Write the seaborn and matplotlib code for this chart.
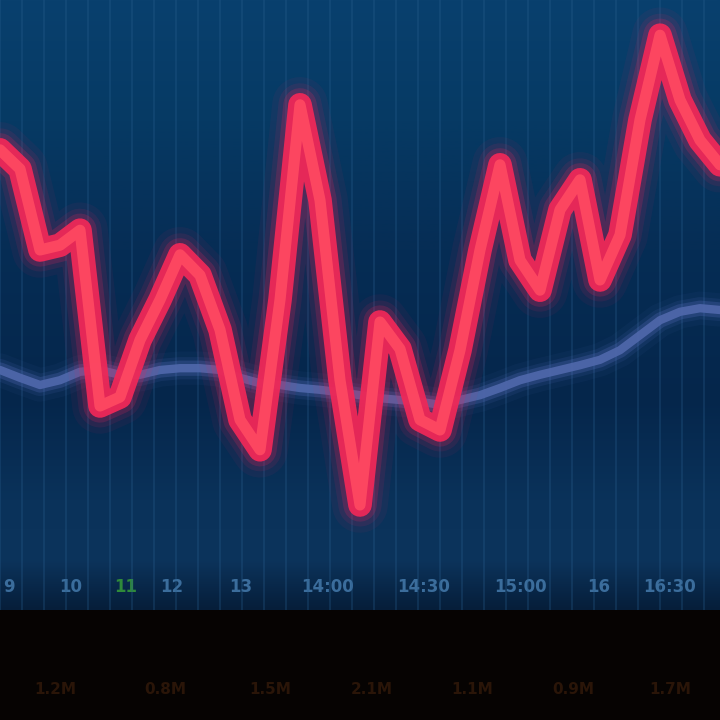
import numpy as np
import pandas as pd
import matplotlib
matplotlib.use("Agg")
import matplotlib.pyplot as plt
import seaborn as sns
from matplotlib.ticker import MultipleLocator
from matplotlib.colors import LinearSegmentedColormap

# ---- data ----
session = list(range(37))
price = [126.7, 123.5, 110.0, 110.8, 113.3, 84.0, 85.5, 95.0, 101.7, 109.2,
         105.8, 96.7, 81.7, 76.7, 101.7, 134.2, 118.3, 88.3, 67.5, 98.0,
         93.5, 81.7, 80.0, 93.3, 110.0, 124.2, 108.3, 103.3, 116.7, 121.7,
         105.0, 112.5, 131.7, 145.8, 135.0, 128.3, 124.2]
moving_avg = [90.0, 88.7, 87.5, 88.3, 89.7, 90.0, 89.2, 89.2, 90.0, 90.3,
              90.3, 90.0, 88.7, 87.8, 87.5, 87.0, 86.7, 86.3, 85.8, 85.3,
              85.0, 84.7, 84.2, 85.0, 85.8, 87.0, 88.3, 89.2, 90.0, 90.8,
              91.7, 93.3, 95.8, 98.3, 99.7, 100.3, 100.0]
tick_pos = [0.45, 3.55, 6.3, 8.6, 12.05, 16.4, 21.2, 26.0, 29.95, 33.5]
tick_labels = ["9", "10", "11", "12", "13", "14:00", "14:30", "15:00", "16", "16:30"]
volume_pos = [2.75, 8.25, 13.5, 18.6, 23.6, 28.65, 33.5]
volume_labels = ["1.2M", "0.8M", "1.5M", "2.1M", "1.1M", "0.9M", "1.7M"]

df = pd.DataFrame({"session": session, "price": price, "ma": moving_avg})

sns.set_theme(style="dark")
plt.rcParams["font.family"] = ["DejaVu Sans"]

fig = plt.figure(figsize=(7.2, 7.2), dpi=100, facecolor="#060302")
ax = fig.add_axes([0, 110 / 720, 1, 610 / 720])
ax.set_facecolor("#062e55")

# background gradient (top -> bottom)
stops = [(0.0, (9, 64, 110)), (120 / 610, (6, 58, 100)), (250 / 610, (6, 45, 85)),
         (400 / 610, (5, 38, 75)), (500 / 610, (10, 50, 90)), (560 / 610, (12, 52, 92)),
         (1.0, (6, 30, 58))]
cmap = LinearSegmentedColormap.from_list(
    "bg", [(p, tuple(c / 255 for c in col)) for p, col in stops])
grad = np.linspace(0, 1, 256).reshape(-1, 1)
ax.imshow(grad, cmap=cmap, aspect="auto", extent=[0, 1, 0, 1],
          transform=ax.transAxes, origin="upper", zorder=0)

# moving average with glow
for lw, a in [(24, 0.06), (16, 0.12), (11, 0.25)]:
    sns.lineplot(data=df, x="session", y="ma", ax=ax, color="#5a6fc0", lw=lw,
                 alpha=a, solid_capstyle="round", solid_joinstyle="round", zorder=2)
sns.lineplot(data=df, x="session", y="ma", ax=ax, color="#5068ac", lw=6,
             alpha=0.9, solid_capstyle="round", solid_joinstyle="round", zorder=3)

# price line with glow
for lw, a in [(40, 0.06), (31, 0.10), (24, 0.2)]:
    sns.lineplot(data=df, x="session", y="price", ax=ax, color="#e8245a", lw=lw,
                 alpha=a, solid_capstyle="round", solid_joinstyle="round", zorder=4)
sns.lineplot(data=df, x="session", y="price", ax=ax, color="#ee2858", lw=17,
             alpha=0.95, solid_capstyle="round", solid_joinstyle="round", zorder=5)
sns.lineplot(data=df, x="session", y="price", ax=ax, color="#ff4a62", lw=8,
             alpha=0.9, solid_capstyle="round", solid_joinstyle="round", zorder=6)

ax.set_xlim(0, 36)
ax.set_ylim(50, 50 + 610 / 6)
ax.set_xlabel("")
ax.set_ylabel("")
ax.set_yticks([])
ax.xaxis.set_minor_locator(MultipleLocator(1.1))
ax.grid(which="minor", axis="x", color="#2a6090", alpha=0.3, lw=1.3, zorder=1)
ax.grid(which="major", axis="x", visible=False)
ax.set_axisbelow(True)
ax.set_xticks(tick_pos)
ax.set_xticklabels(tick_labels)
ax.tick_params(axis="x", which="both", length=0, pad=-23, labelsize=12)
for t in ax.get_xticklabels():
    t.set_color("#3b6d9c")
    t.set_fontweight("bold")
ax.get_xticklabels()[2].set_color("#2f8a3a")
for s in ax.spines.values():
    s.set_visible(False)

# bottom dark strip with faint volume labels
bx = fig.add_axes([0, 0, 1, 110 / 720])
bx.set_facecolor("#060302")
bx.set_xlim(0, 36)
bx.set_ylim(0, 1)
for xp, lab in zip(volume_pos, volume_labels):
    bx.text(xp, 0.28, lab, color="#2a1508", fontsize=11, fontweight="bold",
            ha="center", va="center")
bx.set_xticks([])
bx.set_yticks([])
for s in bx.spines.values():
    s.set_visible(False)

fig.savefig("out.png", dpi=100, facecolor=fig.get_facecolor())
